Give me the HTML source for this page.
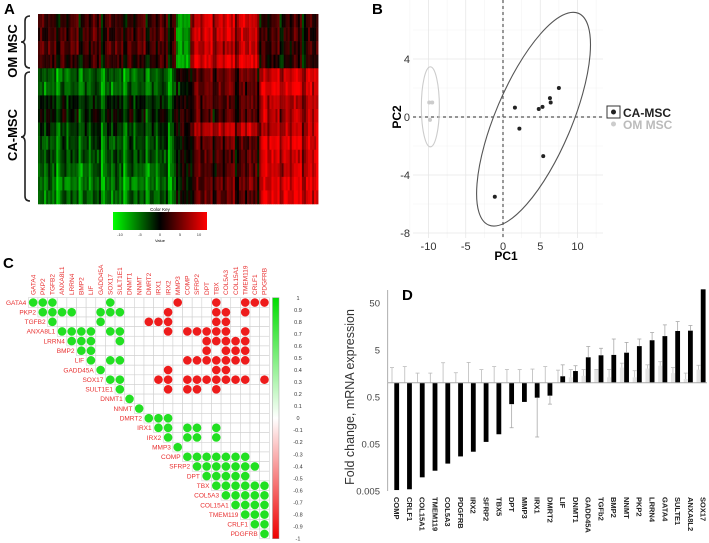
<!DOCTYPE html>
<html><head><meta charset="utf-8"><style>
html,body{margin:0;padding:0;background:#fff;}
svg{display:block;font-family:"Liberation Sans",sans-serif;}
</style></head><body>
<svg id="fig" width="709" height="543" viewBox="0 0 709 543" xmlns="http://www.w3.org/2000/svg">
<g id="pa">
 <text x="4" y="14" font-size="15" font-weight="bold">A</text>
 <text transform="translate(17,51) rotate(-90)" text-anchor="middle" font-size="13" font-weight="bold">OM MSC</text>
 <text transform="translate(17,135) rotate(-90)" text-anchor="middle" font-size="13" font-weight="bold">CA-MSC</text>
 <path d="M30,16 Q25,16 25,21 L25,38 Q25,42 21,42 Q25,42 25,46 L25,63 Q25,68 30,68" fill="none" stroke="#222" stroke-width="1.6"/>
 <path d="M30,72 Q25,72 25,77 L25,132 Q25,137 21,137 Q25,137 25,142 L25,196 Q25,201 30,201" fill="none" stroke="#222" stroke-width="1.6"/>
 <g id="hm"></g>
 <defs><linearGradient id="ck" x1="0" x2="1" y1="0" y2="0"><stop offset="0" stop-color="#00ff00"/><stop offset="0.5" stop-color="#000"/><stop offset="1" stop-color="#ff0000"/></linearGradient>
 <linearGradient id="cb" x1="0" x2="0" y1="0" y2="1"><stop offset="0" stop-color="#00dd00"/><stop offset="0.5" stop-color="#fff"/><stop offset="1" stop-color="#ee0000"/></linearGradient></defs>
 <text x="160" y="211" text-anchor="middle" font-size="4.5">Color Key</text>
 <rect x="113" y="212" width="94" height="18" fill="url(#ck)"/>
 <g font-size="4" text-anchor="middle" fill="#333">
  <text x="120" y="236">-10</text><text x="140" y="236">-5</text><text x="160" y="236">0</text><text x="180" y="236">5</text><text x="199" y="236">10</text></g>
 <text x="160" y="242" text-anchor="middle" font-size="4">Value</text>
</g>

<g id="pb">
 <text x="372" y="14" font-size="15" font-weight="bold">B</text>
 <g id="bgrid"></g>
 <g id="bmarks"></g>
 <text x="506" y="260" text-anchor="middle" font-size="12" font-weight="bold">PC1</text>
 <text transform="translate(401,117) rotate(-90)" text-anchor="middle" font-size="12" font-weight="bold">PC2</text>
 <rect x="607" y="106" width="13" height="12" fill="#fff" stroke="#333" stroke-width="1"/>
 <circle cx="613.5" cy="112" r="2.5" fill="#222"/>
 <text x="623" y="117" font-size="12" font-weight="bold" fill="#222">CA-MSC</text>
 <circle cx="613.5" cy="124" r="2.5" fill="#ccc"/>
 <text x="623" y="129" font-size="12" font-weight="bold" fill="#bbb">OM MSC</text>
</g>

<g id="pc">
 <text x="3" y="268" font-size="15" font-weight="bold">C</text>
 <g id="cgrid"></g>
 <rect x="272.5" y="297.7" width="6.5" height="241" fill="url(#cb)" stroke="#999" stroke-width="0.5"/>
 <g id="cbar" font-size="5.5" fill="#333"></g>
</g>

<g id="pd">
 <text x="402" y="300" font-size="15" font-weight="bold">D</text>
 <text transform="translate(354,397) rotate(-90)" text-anchor="middle" font-size="12.5" fill="#333">Fold change, mRNA expression</text>
 <g id="dmarks"></g>
</g>
</svg>
<script>
var NS="http://www.w3.org/2000/svg";
function mk(p,t,a){var e=document.createElementNS(NS,t);for(var k in a)e.setAttribute(k,a[k]);p.appendChild(e);return e;}

/* ---- Panel A data ---- */
var hmRowMeans=[ // per row: block0, block1, block2, block3
 [1,-9,8,0.5],[1.5,-8,8,1],[2,-9,7,1],[0.5,-10,9,0],
 [-6,-1,3,8],[-6,-2,3,9],[-3,-1,2.5,7],[-2,0,2,7],[-4,-1,7,7],
 [-5,-1,2.5,9],[-5,-2,2,8],[-6,-2,2,8],[-7,-3,3,9],[-6,-1,2.5,9]];
var hmBlockCols=[68,7,34,29];
var hmColNoise=[2,-3,1,4,-2,0,3,-4,1,-1,5,-2,2,-3,0,4,-1,-5,3,1,-2,2,0,-3,4,-1,1,-4,2,3,-2,0,-1];
(function(){
 var g=document.getElementById('hm');var x0=38,y0=14,ch=2.03,rh=(204-14)/14;
 var L=hmColNoise.length;
 for(var r=0;r<hmRowMeans.length;r++){
  var c=0;
  for(var b=0;b<4;b++){for(var k=0;k<hmBlockCols[b];k++){
   var v=hmRowMeans[r][b]+hmColNoise[(c*3)%L]*0.7+hmColNoise[(c*5+r*7)%L]*0.45;
   v=Math.max(-12,Math.min(12,v));var t=Math.abs(v)/12;var cc=Math.round(255*t);
   var fill=v<0?'rgb(0,'+cc+',0)':'rgb('+cc+',0,0)';
   var e=mk(g,'rect',{x:x0+c*ch,y:y0+r*rh,width:ch+0.3,height:rh+0.3,fill:fill});
   
   
   c++;}}
 }
})();

/* ---- Panel B data ---- */
var caPC1=[1.6,2.2,4.8,5.3,6.3,6.4,7.5,5.4,-1.1];
var caPC2=[0.65,-0.8,0.55,0.7,1.3,1.0,2.0,-2.7,-5.5];
var omPC1=[-9.9,-9.5,-9.8];
var omPC2=[1.0,1.0,-0.2];
var bTicksX=[-10,-5,0,5,10];
var bTicksY=[4,0,-4,-8];
function xB(v){return 503+v*7.45;}
function yB(v){return 117-v*14.5;}
(function(){
 var g=document.getElementById('bgrid');
 [-12.5,-7.5,-2.5,2.5,7.5,12.5].forEach(function(v){mk(g,'line',{x1:xB(v),x2:xB(v),y1:0,y2:238,stroke:'#f3f3f3','stroke-width':0.6});});
 [6,2,-2,-6].forEach(function(v){mk(g,'line',{x1:413,x2:603,y1:yB(v),y2:yB(v),stroke:'#f3f3f3','stroke-width':0.6});});
 bTicksX.forEach(function(v){mk(g,'line',{x1:xB(v),x2:xB(v),y1:0,y2:238,stroke:'#e6e6e6','stroke-width':0.8});
  var t=mk(g,'text',{x:xB(v),y:250,'text-anchor':'middle','font-size':11,fill:'#333'});t.textContent=v;
  
  });
 bTicksY.forEach(function(v){mk(g,'line',{x1:413,x2:603,y1:yB(v),y2:yB(v),stroke:'#e6e6e6','stroke-width':0.8});
  var t=mk(g,'text',{x:410,y:yB(v)+4,'text-anchor':'end','font-size':11,fill:'#333'});t.textContent=v;
  
  });
 var m=document.getElementById('bmarks');
 var l1=mk(m,'line',{x1:xB(0),x2:xB(0),y1:0,y2:240,stroke:'#555','stroke-width':1.2,'stroke-dasharray':'3,3'});
 
 
 var l2=mk(m,'line',{x1:413,x2:603,y1:yB(0),y2:yB(0),stroke:'#555','stroke-width':1.2,'stroke-dasharray':'3,3'});
 
 
 var e1=mk(m,'ellipse',{cx:xB(4.1),cy:yB(-0.15),rx:38,ry:115,fill:'none',stroke:'#555','stroke-width':1.1,transform:'rotate(23 '+xB(4.1)+' '+yB(-0.15)+')'});
 
 
 var e2=mk(m,'ellipse',{cx:xB(-9.75),cy:yB(0.7),rx:9,ry:40,fill:'none',stroke:'#ccc','stroke-width':1.1});
 
 
 caPC1.forEach(function(v,i){var c=mk(m,'circle',{cx:xB(v),cy:yB(caPC2[i]),r:2,fill:'#222'});
  
  });
 omPC1.forEach(function(v,i){var c=mk(m,'circle',{cx:xB(v),cy:yB(omPC2[i]),r:2,fill:'#ccc'});
  
  });
})();

/* ---- Panel C data ---- */
var corrGenes=["GATA4","PKP2","TGFB2","ANXA8L1","LRRN4","BMP2","LIF","GADD45A","SOX17","SULT1E1","DNMT1","NNMT","DMRT2","IRX1","IRX2","MMP3","COMP","SFRP2","DPT","TBX","COL5A3","COL15A1","TMEM119","CRLF1","PDGFRB"];
var corrRows=[
 "ggg.....g......r...r..rrr",
 ".gggg..ggg....r....rr.r..",
 "..g....g....rrr....rr....",
 "...gggg.gg....r.rrrrr.r..",
 "....ggg..g........rrrrr..",
 ".....gg...........r.rrr..",
 "......g.gg......rrrrrrr..",
 ".......g......r....rr....",
 "........gg...rr.rrrrrrr.r",
 ".........g....r.rr.r.....",
 "..........g..............",
 "...........g.............",
 "............ggg..........",
 ".............gg.gg.g.....",
 "..............g.gg.g.....",
 "...............g.........",
 "................ggggggg..",
 ".................ggggggg.",
 "..................ggggg..",
 "...................gggggg",
 "....................ggggg",
 ".....................gggg",
 "......................ggg",
 ".......................gg",
 "........................g"];
var cbLabels=["1","0.9","0.8","0.7","0.6","0.5","0.4","0.3","0.2","0.1","0","-0.1","-0.2","-0.3","-0.4","-0.5","-0.6","-0.7","-0.8","-0.9","-1"];
(function(){
 var g=document.getElementById('cgrid');var x0=28.3,y0=297.7,s=9.64,n=corrGenes.length;
 for(var i=0;i<n;i++){for(var j=i;j<n;j++){
  mk(g,'rect',{x:x0+j*s,y:y0+i*s,width:s,height:s,fill:'#fff',stroke:'#d0d0d0','stroke-width':0.6});}}
 for(var i=0;i<n;i++){
  var t=mk(g,'text',{x:x0+i*s-2,y:y0+i*s+s/2+2.3,'text-anchor':'end','font-size':6.5,fill:'#e83030'});t.textContent=corrGenes[i];
  
  
  var cx=x0+i*s+s/2+2.2;
  var t2=mk(g,'text',{x:0,y:0,transform:'translate('+cx+',295) rotate(-90)','font-size':6.5,fill:'#e83030'});t2.textContent=corrGenes[i];
  
  
  for(var j=0;j<n;j++){var ch=corrRows[i].charAt(j);if(ch!=='g'&&ch!=='r')continue;
   var c=mk(g,'circle',{cx:x0+j*s+s/2,cy:y0+i*s+s/2,r:4.3,fill:ch==='g'?'#22e022':'#ee1c1c'});
   
   }
 }
 var cb=document.getElementById('cbar');
 cbLabels.forEach(function(l,k){var t=mk(cb,'text',{x:298,y:298+k*12.02+2,'text-anchor':'middle'});t.textContent=l;
  
  });
})();

/* ---- Panel D data ---- */
var dGenes=["COMP","CRLF1","COL15A1","TMEM119","COL5A3","PDGFRB","IRX2","SFRP2","TBX5","DPT","MMP3","IRX1","DMRT2","LIF","DNMT1","GADD45A","TGFb2","BMP2","NNMT","PKP2","LRRN4","GATA4","SULTE1","ANXA8L2","SOX17"];
var dFold=[0.0052,0.0054,0.0097,0.0134,0.019,0.027,0.034,0.055,0.080,0.35,0.39,0.48,0.53,1.37,1.77,3.47,3.83,3.9,4.35,6.0,8.0,9.8,12.6,12.8,97];
var dErrEnd=[null,null,null,null,null,null,null,null,null,0.11,null,0.07,0.35,2.4,2.3,5.9,5.4,8.5,7.2,8.5,11.7,17.0,20.0,16.5,null];
var dCtrl=[1,1,1,1,1,1,1,1,1,1,1,1,1,1,1.3,1.4,1.9,1.3,2.1,1.3,2.0,2.3,1.6,1.2,1.9];
var dCtrlErr=[2.1,2.2,1.6,1.6,2.66,1.63,2.7,1.9,2.2,1.9,1.9,1.95,2.2,1.85,1.9,1.9,1.9,1.9,2.6,1.8,2.4,2.8,2.1,1.6,2.35];
var dTicks=[50,5,0.5,0.05,0.005];
function xD(i){return 396.7+i*12.77;}
function yD(v){return 382.7-Math.log10(v)*47;}
(function(){
 var g=document.getElementById('dmarks');
 mk(g,'line',{x1:387.7,x2:387.7,y1:290,y2:491,stroke:'#999','stroke-width':0.8});
 dTicks.forEach(function(v){var t=mk(g,'text',{x:380,y:yD(v)+3.5,'text-anchor':'end','font-size':9.5,fill:'#444'});t.textContent=v;
  
  });
 dGenes.forEach(function(name,i){
  var x=xD(i);
  var cx=x-4.7;
  var ct=yD(dCtrl[i]);
  if(dCtrl[i]>1){var cr=mk(g,'rect',{x:cx-2,y:ct,width:4,height:yD(1)-ct,fill:'#e4e4e4'});
   
   }
  var ey=yD(dCtrlErr[i]);
  mk(g,'line',{x1:cx,x2:cx,y1:ey,y2:ct,stroke:'#bbb','stroke-width':0.8});
  mk(g,'line',{x1:cx-2,x2:cx+2,y1:ey,y2:ey,stroke:'#bbb','stroke-width':0.8});
  var y1=yD(dFold[i]),y0=yD(1);
  var b=mk(g,'rect',{x:x-2.4,y:Math.min(y1,y0),width:4.8,height:Math.abs(y1-y0),fill:'#000'});
  
  
  if(dErrEnd[i]!==null){var ee=yD(dErrEnd[i]);
   mk(g,'line',{x1:x,x2:x,y1:ee,y2:y1,stroke:'#aaa','stroke-width':0.8});
   mk(g,'line',{x1:x-2,x2:x+2,y1:ee,y2:ee,stroke:'#aaa','stroke-width':0.8});}
  var t=mk(g,'text',{x:0,y:0,transform:'translate('+(x-2.6)+',497) rotate(90)','font-size':7.5,'font-weight':'bold',fill:'#222'});t.textContent=name;
  
  
 });
 mk(g,'line',{x1:387.7,x2:707,y1:yD(1),y2:yD(1),stroke:'#aaa','stroke-width':1});
})();
</script>
</body></html>
